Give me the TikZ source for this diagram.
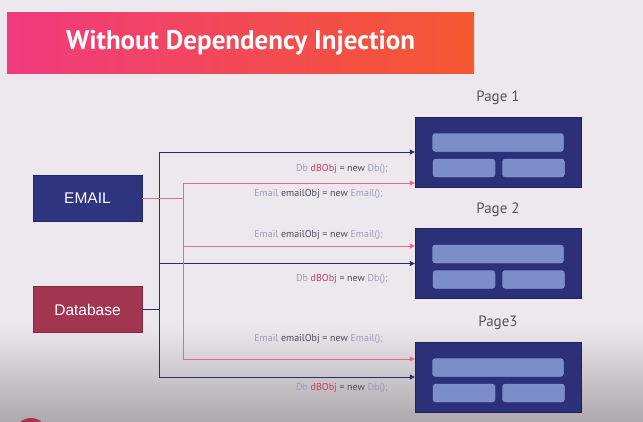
\documentclass[tikz,border=0pt]{standalone}
\usepackage{fontspec}
\setmainfont{PT Sans}
\newfontfamily\arialfont{Liberation Sans}
\usepackage{xcolor}
\definecolor{slidebg}{HTML}{EDE8EE}
\definecolor{shadowgray}{HTML}{ADA9AE}
\definecolor{titlepink}{HTML}{F03A7E}
\definecolor{titleorange}{HTML}{F5582F}
\definecolor{emailblue}{HTML}{2E3480}
\definecolor{dbred}{HTML}{A23550}
\definecolor{pagenavy}{HTML}{2C3079}
\definecolor{barblue}{HTML}{7B8DCB}
\definecolor{linedark}{HTML}{2D2F5E}
\definecolor{linepink}{HTML}{E56A88}
\definecolor{codelight}{HTML}{9C9CB8}
\definecolor{codedark}{HTML}{4A4A5A}
\definecolor{codered}{HTML}{C23B66}
\definecolor{labelgray}{HTML}{555555}
\usepackage{tikz}
\usetikzlibrary{arrows.meta,positioning,calc}

\newcommand{\dbcode}{{\color{codelight}Db} {\color{codered}dBObj} {\color{codedark}= new} {\color{codelight}Db();}}
\newcommand{\emcode}{{\color{codelight}Email} {\color{codedark}emailObj = new} {\color{codelight}Email();}}

\begin{document}
\begin{tikzpicture}[x=1pt,y=-1pt,
    src/.style={draw=#1!80!black, fill=#1, text=white, font=\arialfont\fontsize{15.5}{18}\selectfont, minimum width=109pt, minimum height=46pt, inner sep=0pt},
    pagebox/.style={draw=pagenavy!70!black, fill=pagenavy, minimum width=166pt, minimum height=70pt, inner sep=0pt},
    bar/.style={fill=barblue, draw=barblue!85!white, rounded corners=3pt, inner sep=0pt, minimum height=18pt},
    pagelabel/.style={font=\fontsize{15}{18}\selectfont, text=labelgray},
    dkline/.style={draw=linedark, line width=0.8pt},
    pkline/.style={draw=linepink, line width=0.8pt},
    tip/.style={-{Triangle[length=5pt,width=5pt]}},
    code/.style={font=\fontsize{10}{12}\selectfont, anchor=east, inner sep=0pt}
  ]
  \useasboundingbox (0,0) rectangle (643,421);
  \fill[slidebg] (0,0) rectangle (643,421);
  \shade[top color=slidebg, bottom color=shadowgray] (0,325) rectangle (643,421);
  \begin{scope}
    \clip (0,0) rectangle (643,421);
    \fill[dbred!90!red] (31,434) circle (16);
  \end{scope}

  % title banner
  \node[left color=titlepink, right color=titleorange, minimum width=467pt, minimum height=61pt, inner sep=0pt,
        text=white, font=\bfseries\fontsize{27}{32}\selectfont] (title) at (240.5,42.5) {Without Dependency Injection};

  % sources
  \node[src=emailblue] (email) at (87.5,198) {EMAIL};
  \node[src=dbred] (db) at (87.5,309.5) {Database};

  % pages
  \foreach \p/\y/\lab in {1/152/Page 1, 2/263.5/Page 2, 3/377/Page3}{
    \node[pagebox] (page\p) at (498,\y) {};
    \node[bar, minimum width=131pt] at ([yshift=9.5pt]page\p.center) {};
    \node[bar, minimum width=62pt] at ([xshift=-34pt,yshift=-16pt]page\p.center) {};
    \node[bar, minimum width=62pt] at ([xshift=35.5pt,yshift=-16pt]page\p.center) {};
    \node[pagelabel] (plabel\p) at ([yshift=54pt]page\p.center) {\lab};
  }

  % database connectors
  \draw[dkline] (db.east) -- ++(17,0) coordinate (dbt);
  \draw[dkline, tip] (dbt) |- (page1.west);
  \draw[dkline, tip] (dbt) |- (page2.west);
  \draw[dkline, tip] (dbt) |- (page3.west);

  % email connectors
  \draw[pkline] (email.east) -- ++(41,0) coordinate (emt);
  \draw[pkline, tip] (emt) |- ([yshift=-31pt]page1.west);
  \draw[pkline, tip] (emt) |- ([yshift=17.5pt]page2.west);
  \draw[pkline, tip] (emt) |- ([yshift=18pt]page3.west);

  % code labels
  \node[code] (db1) at (388,169) {\dbcode};
  \node[code] (em1) at (383,194) {\emcode};
  \node[code] (em2) at (383,235) {\emcode};
  \node[code] (db2) at (388,279) {\dbcode};
  \node[code] (em3) at (383,339) {\emcode};
  \node[code] (db3) at (388,388) {\dbcode};
\end{tikzpicture}
\end{document}
